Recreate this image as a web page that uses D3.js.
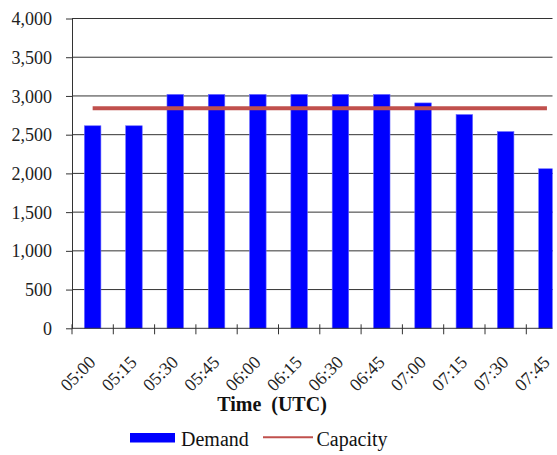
<!DOCTYPE html>
<html><head><meta charset="utf-8">
<script src="https://cdn.jsdelivr.net/npm/d3@7"></script>
<style>body{margin:0;background:#fff}svg{display:block}text{white-space:pre}</style>
</head><body>
<svg id="c" width="557" height="455"></svg>
<script>
const categories = ["05:00","05:15","05:30","05:45","06:00","06:15","06:30","06:45","07:00","07:15","07:30","07:45"];
const demand = [2615, 2615, 3020, 3020, 3020, 3020, 3020, 3020, 2910, 2760, 2540, 2060];
const capacity = [2840, 2840, 2840, 2840, 2840, 2840, 2840, 2840, 2840, 2840, 2840, 2840];
const yTicks = [0, 500, 1000, 1500, 2000, 2500, 3000, 3500, 4000];

(function(){
const svg = d3.select("#c");
const mLeft = 72, mRight = 72 + 12*41.3, mTop = 18.5, mBottom = 328.3;
const clipX = 552.5;
const x = d3.scaleBand().domain(categories).range([mLeft, mRight]).paddingInner(0.6).paddingOuter(0.3);
const y = d3.scaleLinear().domain([0, 4000]).range([mBottom, mTop]);

svg.append("defs").append("clipPath").attr("id", "pc")
  .append("rect").attr("x", 0).attr("y", 0).attr("width", clipX).attr("height", 455);
const plot = svg.append("g").attr("clip-path", "url(#pc)");

// detect narrow font
const probeA = svg.append("text").attr("font-family", "Liberation Sans Narrow").attr("font-size", 18).text("4,000");
const probeB = svg.append("text").attr("font-family", "Liberation Sans").attr("font-size", 18).text("4,000");
const wA = probeA.node().getComputedTextLength(), wB = probeB.node().getComputedTextLength();
probeA.remove(); probeB.remove();
const hasNarrow = wA < wB * 0.95;
const sx = hasNarrow ? 1 : 0.82;
const axisFont = hasNarrow ? "Liberation Sans Narrow" : "Liberation Sans, Arial, sans-serif";
const axisSize = 18;

// gridlines
plot.append("g").selectAll("line").data(yTicks.filter(d=>d>0)).join("line")
  .attr("x1", mLeft).attr("x2", mRight).attr("y1", d=>y(d)).attr("y2", d=>y(d))
  .attr("stroke", "#333").attr("stroke-width", 1);

// bars
plot.append("g").selectAll("rect").data(demand).join("rect")
  .attr("x", (d,i)=>x(categories[i])).attr("width", x.bandwidth())
  .attr("y", d=>y(d)).attr("height", d=>mBottom - y(d))
  .attr("fill", "#0000FF").attr("stroke", "#6a6aff").attr("stroke-width", 0.6);

// capacity line
plot.append("path").datum(capacity)
  .attr("d", d3.line().x((d,i)=>x(categories[i]) + x.bandwidth()/2).y(d=>y(d)))
  .attr("fill", "none").attr("stroke", "#C0504D").attr("stroke-width", 4);

// y axis
const ya = svg.append("g").attr("transform", `translate(${mLeft},0)`)
  .call(d3.axisLeft(y).tickValues(yTicks).tickSize(6).tickSizeOuter(0).tickFormat(d3.format(",")));
ya.select(".domain").attr("stroke", "#333");
ya.selectAll(".tick line").attr("stroke", "#333");
ya.selectAll(".tick text").attr("font-family", axisFont).attr("font-size", axisSize)
  .attr("fill", "#222").attr("x", null).attr("dy", "0.34em")
  .attr("transform", `translate(-20,0) scale(${sx},1)`);

// x axis baseline
plot.append("line").attr("x1", mLeft).attr("x2", mRight).attr("y1", mBottom).attr("y2", mBottom)
  .attr("stroke", "#333").attr("stroke-width", 1);
// x ticks at band boundaries
const bounds = categories.map(c => x(c) - x.step()*x.paddingInner()/2);
plot.append("g").selectAll("line").data(bounds).join("line")
  .attr("x1", d=>d).attr("x2", d=>d).attr("y1", mBottom - 4).attr("y2", mBottom + 6)
  .attr("stroke", "#333");
// x labels
svg.append("g").selectAll("text").data(categories).join("text")
  .attr("transform", d=>`translate(${x(d) + x.bandwidth()/2 + 4},${mBottom + 35}) rotate(-45) scale(${sx},1)`)
  .attr("text-anchor", "end").attr("font-family", axisFont)
  .attr("font-size", axisSize).attr("fill", "#222").text(d=>d);

// axis title
svg.append("text").attr("x", 272).attr("y", 411).attr("text-anchor", "middle")
  .attr("font-family", "Liberation Serif, Times New Roman, serif").attr("font-weight", "bold")
  .attr("font-size", 20).attr("fill", "#111").text("Time  (UTC)");

// legend
const lg = svg.append("g");
lg.append("rect").attr("x", 130).attr("y", 433).attr("width", 45).attr("height", 9.5).attr("fill", "#0000FF");
lg.append("text").attr("x", 181).attr("y", 446).attr("font-family", "Liberation Serif, Times New Roman, serif")
  .attr("font-size", 20).attr("fill", "#111").text("Demand");
lg.append("line").attr("x1", 263).attr("x2", 313).attr("y1", 437.3).attr("y2", 437.3)
  .attr("stroke", "#C0504D").attr("stroke-width", 2);
lg.append("text").attr("x", 316.5).attr("y", 446).attr("font-family", "Liberation Serif, Times New Roman, serif")
  .attr("font-size", 20).attr("fill", "#111").text("Capacity");
})();
</script>
</body></html>
